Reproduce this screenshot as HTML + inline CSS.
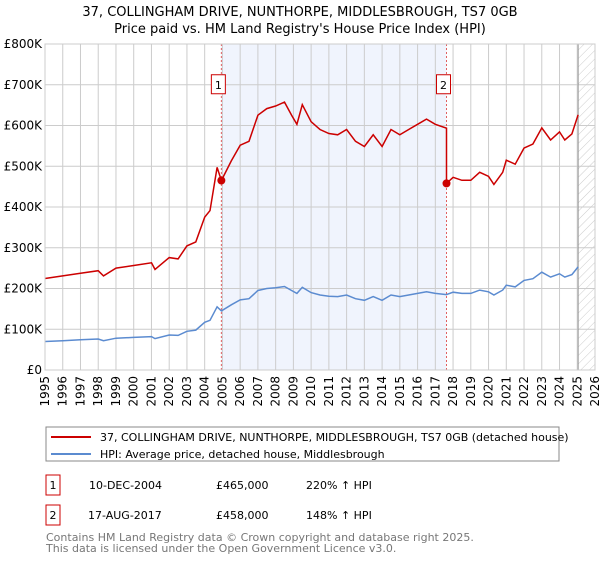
<!DOCTYPE html>
<html><head><meta charset="utf-8"><style>
body{margin:0;background:#fff;font-family:"Liberation Sans","DejaVu Sans",sans-serif;}
svg text{font-family:"DejaVu Sans","Liberation Sans",sans-serif;}
</style></head><body>
<svg width="600" height="560" viewBox="0 0 600 560" xmlns="http://www.w3.org/2000/svg">
<defs><pattern id="hatch" patternUnits="userSpaceOnUse" width="6" height="6" patternTransform="rotate(45)"><line x1="0" y1="0" x2="0" y2="6" stroke="#ccc" stroke-width="1"/></pattern></defs>
<text x="300" y="16" text-anchor="middle" font-size="13" fill="#000">37, COLLINGHAM DRIVE, NUNTHORPE, MIDDLESBROUGH, TS7 0GB</text>
<text x="300" y="33" text-anchor="middle" font-size="13" fill="#000">Price paid vs. HM Land Registry's House Price Index (HPI)</text>
<g id="plot"></g>
<rect x="46" y="427" width="513" height="34" fill="#fff" stroke="#888"/>
<line x1="51" y1="437" x2="91" y2="437" stroke="#cc0000" stroke-width="2"/>
<text x="100" y="441" font-size="11">37, COLLINGHAM DRIVE, NUNTHORPE, MIDDLESBROUGH, TS7 0GB (detached house)</text>
<line x1="51" y1="454" x2="91" y2="454" stroke="#5b8bd0" stroke-width="2"/>
<text x="100" y="458" font-size="11">HPI: Average price, detached house, Middlesbrough</text>
<g font-size="11">
<rect x="46" y="475" width="14" height="20" fill="#fff" stroke="#cc0000"/>
<text x="53" y="489" text-anchor="middle">1</text>
<text x="89" y="489">10-DEC-2004</text>
<text x="216" y="489">£465,000</text>
<text x="306" y="489">220% ↑ HPI</text>
<rect x="46" y="505" width="14" height="20" fill="#fff" stroke="#cc0000"/>
<text x="53" y="519" text-anchor="middle">2</text>
<text x="88" y="519">17-AUG-2017</text>
<text x="216" y="519">£458,000</text>
<text x="306" y="519">148% ↑ HPI</text>
</g>
<text x="46" y="541" font-size="11" fill="#777">Contains HM Land Registry data © Crown copyright and database right 2025.</text>
<text x="46" y="552" font-size="11" fill="#777">This data is licensed under the Open Government Licence v3.0.</text>
</svg>
<script>
const hpiYears=[1995,1996,1997,1998,1998.3,1999,2000,2001,2001.2,2002,2002.5,2003,2003.5,2004,2004.3,2004.7,2004.94,2005.5,2006,2006.5,2007,2007.5,2008,2008.5,2008.9,2009.2,2009.5,2010,2010.5,2011,2011.5,2012,2012.5,2013,2013.5,2014,2014.5,2015,2015.5,2016,2016.5,2017,2017.63,2018,2018.5,2019,2019.5,2020,2020.3,2020.8,2021,2021.5,2022,2022.5,2023,2023.5,2024,2024.3,2024.7,2025.05];
const hpiValues=[70,72,74,76,72,78,80,82,77,86,85,95,98,117,122,155,145,160,172,175,195,200,202,205,195,188,203,190,184,181,180,184,175,171,180,171,184,180,184,188,192,188,185,191,188,188,196,192,184,196,208,204,220,224,240,228,236,228,234,253];
const saleYears=[2004.94,2017.63];
const salePrices=[465,458];
const yTicks=[0,100,200,300,400,500,600,700,800];
const yTickLabels=["£0","£100K","£200K","£300K","£400K","£500K","£600K","£700K","£800K"];
const xTicks=[1995,1996,1997,1998,1999,2000,2001,2002,2003,2004,2005,2006,2007,2008,2009,2010,2011,2012,2013,2014,2015,2016,2017,2018,2019,2020,2021,2022,2023,2024,2025,2026];
const L=45,R=595,T=44,B=370,y0=1995,y1=2026,hatchStart=2025.05;
const X=y=>L+(y-y0)/(y1-y0)*(R-L);
const Y=v=>B-v/800*(B-T);
const NS="http://www.w3.org/2000/svg";
const g=document.getElementById('plot');
function mk(tag,attrs){const e=document.createElementNS(NS,tag);for(const k in attrs)e.setAttribute(k,attrs[k]);g.appendChild(e);return e;}
function hpiAt(t){for(let i=0;i<hpiYears.length-1;i++){if(t>=hpiYears[i]&&t<=hpiYears[i+1]){const f=(t-hpiYears[i])/(hpiYears[i+1]-hpiYears[i]);return hpiValues[i]+f*(hpiValues[i+1]-hpiValues[i]);}}return hpiValues[hpiValues.length-1];}
let e;
e=mk('rect',{x:X(saleYears[0]),y:T,width:X(saleYears[1])-X(saleYears[0]),height:B-T,fill:'#f0f4fd'});


e=mk('rect',{x:X(hatchStart),y:T,width:R-X(hatchStart),height:B-T,fill:'url(#hatch)'});


xTicks.forEach(t=>{
 e=mk('line',{x1:X(t),x2:X(t),y1:T,y2:B,stroke:'#ccc','stroke-width':1});
 
 
 const tx=X(t)+4,ty=B+6;
 e=mk('text',{x:tx,y:ty,'font-size':12,'text-anchor':'end',transform:'rotate(-90 '+tx+' '+ty+')'});
 e.textContent=t;
 
 
});
yTicks.forEach((v,i)=>{
 e=mk('line',{x1:L,x2:R,y1:Y(v),y2:Y(v),stroke:'#ccc','stroke-width':1});
 
 
 e=mk('text',{x:L-3,y:Y(v)+4,'font-size':12,'text-anchor':'end'});
 e.textContent=yTickLabels[i];
 
 
});
e=mk('line',{x1:X(hatchStart),x2:X(hatchStart),y1:T,y2:B,stroke:'#999','stroke-width':1});


saleYears.forEach((s,i)=>{
 e=mk('line',{x1:X(s),x2:X(s),y1:T,y2:B,stroke:'#e06060','stroke-width':1,'stroke-dasharray':'2,2'});
 
 
});
let pts=hpiYears.map((t,i)=>X(t).toFixed(1)+','+Y(hpiValues[i]).toFixed(1)).join(' ');
e=mk('polyline',{points:pts,fill:'none',stroke:'#5b8bd0','stroke-width':1.5});


const r1=salePrices[0]/hpiAt(saleYears[0]),r2=salePrices[1]/hpiAt(saleYears[1]);
let rp=[];
hpiYears.forEach((t,i)=>{
 if(t<saleYears[1]) rp.push([t,hpiValues[i]*r1]);
 if(i<hpiYears.length-1&&t<saleYears[1]&&hpiYears[i+1]>=saleYears[1]){rp.push([saleYears[1],hpiAt(saleYears[1])*r1]);rp.push([saleYears[1],salePrices[1]]);}
 if(t>saleYears[1]) rp.push([t,hpiValues[i]*r2]);
});
e=mk('polyline',{points:rp.map(p=>X(p[0]).toFixed(1)+','+Y(p[1]).toFixed(1)).join(' '),fill:'none',stroke:'#cc0000','stroke-width':1.5});


saleYears.forEach((s,i)=>{
 e=mk('circle',{cx:X(s),cy:Y(salePrices[i]),r:4,fill:'#cc0000'});
 
 
 e=mk('rect',{x:X(s)-10,y:Y(700)-10,width:14,height:19,fill:'#fff',stroke:'#cc0000'});
 
 
 e=mk('text',{x:X(s)-3,y:Y(700)+4,'font-size':11,'text-anchor':'middle'});
 e.textContent=String(i+1);
 
 
});
e=mk('rect',{x:L,y:T,width:R-L,height:B-T,fill:'none',stroke:'#ccc'});


</script>
</body></html>
